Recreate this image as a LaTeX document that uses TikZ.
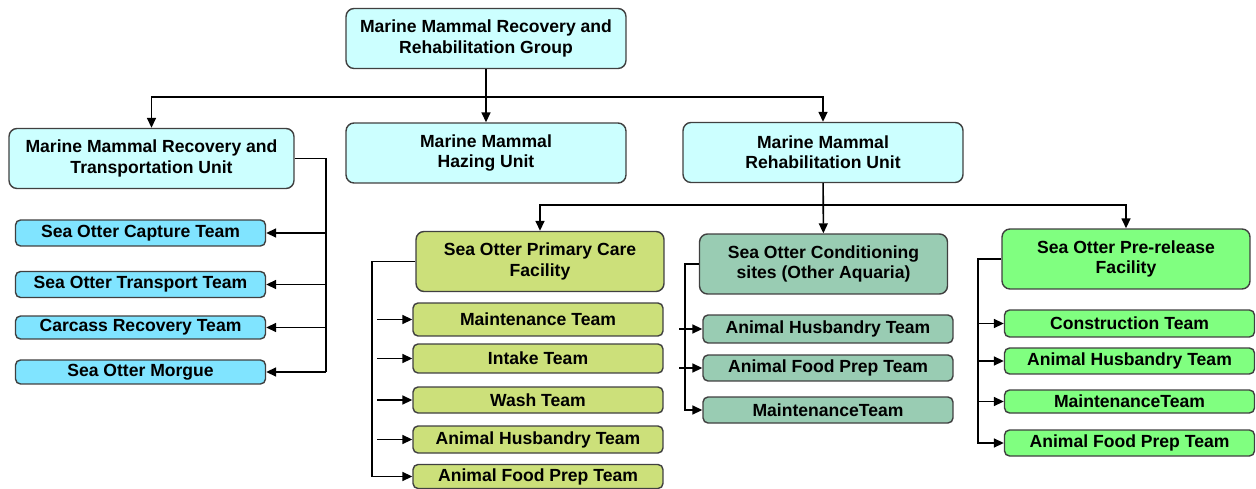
\documentclass[tikz,border=0pt]{standalone}
\usepackage{fontspec}
\setmainfont{Liberation Sans}
\usepackage{tikz}
\usetikzlibrary{positioning,arrows.meta}
\definecolor{unitcyan}{RGB}{204,255,255}
\definecolor{teamcyan}{RGB}{128,228,255}
\definecolor{careolive}{RGB}{204,224,122}
\definecolor{condsage}{RGB}{153,204,179}
\definecolor{relgreen}{RGB}{128,255,128}
\definecolor{edgegray}{RGB}{64,64,64}

\begin{document}
\begin{tikzpicture}[x=0.02cm,y=-0.02cm,
  box/.style={draw=edgegray,line width=0.8pt,align=center,inner sep=0pt,
    font=\bfseries\fontsize{10}{11.5}\selectfont},
  unitbox/.style={box,fill=unitcyan,rounded corners=1.6mm,minimum width=5.6cm,minimum height=1.2cm},
  facbox/.style={box,rounded corners=1.6mm,minimum width=4.96cm,minimum height=1.2cm},
  teambox/.style={box,rounded corners=1mm,minimum width=5cm,minimum height=0.52cm},
  link/.style={draw=black,line width=0.9pt},
  arr/.style={link,-{Triangle[length=2mm,width=1.8mm]}}]
  % frame of the page
  \useasboundingbox (0,0) rectangle (1256,489);
  % top group and units
  \node[unitbox] (grp) at (486,38.5) {Marine Mammal Recovery and\\Rehabilitation Group};
  \node[unitbox,minimum width=5.7cm] (rtu) at (151.5,158.5) {Marine Mammal Recovery and\\Transportation Unit};
  \node[unitbox] (haz) at (486,153) {Marine Mammal\\Hazing Unit};
  \node[unitbox] (rhu) at (823,152.5) {Marine Mammal\\Rehabilitation Unit};
  % recovery and transportation teams
  \node[teambox,fill=teamcyan] (cap) at (140.5,233) {Sea Otter Capture Team};
  \node[teambox,fill=teamcyan] (trn) at (140.5,284.5) {Sea Otter Transport Team};
  \node[teambox,fill=teamcyan,minimum height=0.46cm] (ccr) at (140.5,327.5) {Carcass Recovery Team};
  \node[teambox,fill=teamcyan,minimum height=0.48cm] (mor) at (140.5,372) {Sea Otter Morgue};
  % rehabilitation facilities
  \node[facbox,fill=careolive] (pcf) at (540,261.5) {Sea Otter Primary Care\\Facility};
  \node[facbox,fill=condsage] (cnd) at (823.5,264) {Sea Otter Conditioning\\sites (Other Aquaria)};
  \node[facbox,fill=relgreen] (prf) at (1126,259) {Sea Otter Pre-release\\Facility};
  % primary care teams
  \node[teambox,fill=careolive,minimum height=0.66cm] (pmnt) at (538,319.5) {Maintenance Team};
  \node[teambox,fill=careolive,minimum height=0.58cm] (pint) at (538,358.5) {Intake Team};
  \node[teambox,fill=careolive] (pwsh) at (538,400) {Wash Team};
  \node[teambox,fill=careolive,minimum height=0.54cm] (phus) at (538,439.5) {Animal Husbandry Team};
  \node[teambox,fill=careolive,minimum height=0.48cm] (pfod) at (538,476.5) {Animal Food Prep Team};
  % conditioning teams
  \node[teambox,fill=condsage,minimum height=0.56cm] (chus) at (828,329) {Animal Husbandry Team};
  \node[teambox,fill=condsage] (cfod) at (828,368) {Animal Food Prep Team};
  \node[teambox,fill=condsage] (cmnt) at (828,410) {MaintenanceTeam};
  % pre-release teams
  \node[teambox,fill=relgreen,minimum height=0.54cm] (rcon) at (1129.5,323.5) {Construction Team};
  \node[teambox,fill=relgreen] (rhus) at (1129.5,361) {Animal Husbandry Team};
  \node[teambox,fill=relgreen,minimum height=0.46cm] (rmnt) at (1129.5,401.5) {MaintenanceTeam};
  \node[teambox,fill=relgreen] (rfod) at (1129.5,443) {Animal Food Prep Team};
  % bus points
  \coordinate (gbar) at (486,97);
  \coordinate (rbar) at (823,205);
  \coordinate (rtubus) at (326,158.5);
  \coordinate (pcfbus) at (372,261.5);
  \coordinate (cndbus) at (685,264);
  \coordinate (prfbus) at (978,259);
  % group level
  \draw[arr] (grp) -- (haz);
  \draw[arr] (gbar) -| (rtu.north);
  \draw[arr] (gbar) -| (rhu.north);
  % recovery and transportation unit
  \draw[link] (rtu.east) -- (rtubus) -- (rtubus |- mor.east);
  \foreach \t in {cap,trn,ccr,mor} {\draw[arr] (rtubus |- \t.east) -- (\t.east);}
  % rehabilitation unit
  \draw[arr] (rhu) -- (cnd);
  \draw[arr] (rbar) -| (pcf.north);
  \draw[arr] (rbar) -| (prf.north);
  % primary care facility
  \draw[arr] (pcf.west) -- (pcfbus) |- (pfod.west);
  \foreach \t in {pmnt,pint,pwsh,phus} {\draw[arr] ([xshift=-0.7cm]\t.west) -- (\t.west);}
  % conditioning sites
  \draw[arr] (cnd.west) -- (cndbus) |- (cmnt.west);
  \foreach \t in {chus,cfod} {\draw[arr] ([xshift=-0.46cm]\t.west) -- (\t.west);}
  % pre-release facility
  \draw[arr] (prf.west) -- (prfbus) |- (rfod.west);
  \foreach \t in {rcon,rhus,rmnt} {\draw[arr] (prfbus |- \t.west) -- (\t.west);}
\end{tikzpicture}
\end{document}
